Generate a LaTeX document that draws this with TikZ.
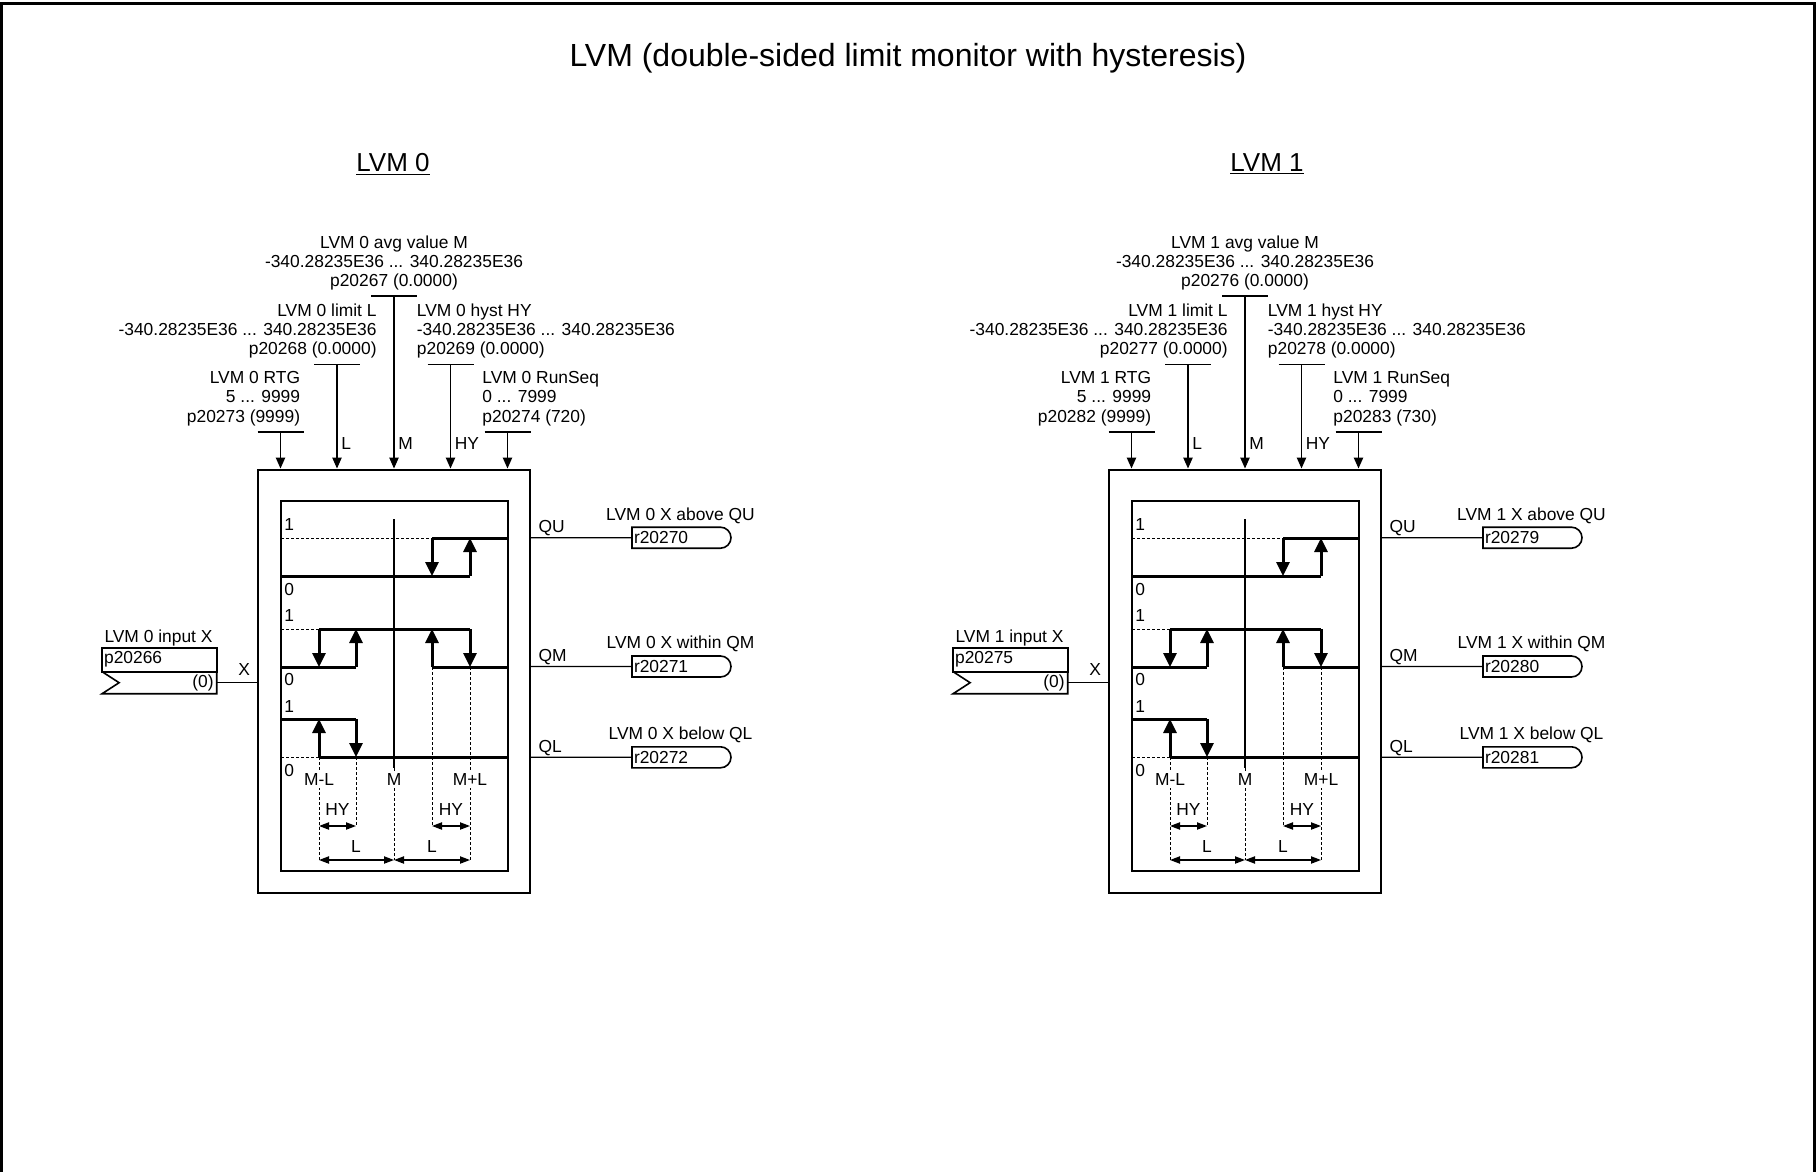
\documentclass[tikz,border=0pt]{standalone}
\usepackage{fontspec}
\setmainfont{Liberation Sans}
\usetikzlibrary{arrows.meta,positioning,calc,shapes.misc}
\newcommand{\pnr}[1]{\the\numexpr\pbase+#1\relax}

\begin{document}
\begin{tikzpicture}[
  x=0.5pt, y=-0.5pt,
  font=\fontsize{8.7}{9.6}\selectfont,
  txt/.style={inner sep=0pt, text depth=0pt},
  blk/.style={draw, line width=1pt, minimum width=136pt, minimum height=211.75pt},
  frm/.style={draw, line width=1pt},
  thn/.style={line width=0.65pt},
  bar/.style={line width=0.7pt},
  inarr/.style={thn, -{Triangle[length=5.5pt, width=4.7pt]}},
  hys/.style={line width=1.5pt},
  hysarr/.style={hys, -{Triangle[length=7pt, width=6.5pt]}},
  dim/.style={line width=0.7pt, {Triangle[length=5pt, width=3.6pt]}-{Triangle[length=5pt, width=3.6pt]}},
  dot/.style={line width=0.5pt, dash pattern=on 1.5pt off 1pt},
  pbox/.style={draw, line width=0.8pt, outer sep=0pt, minimum height=12pt, inner xsep=1pt,
               inner ysep=0pt, text width=55.3pt, align=left},
  rbox/.style={draw, line width=0.8pt, rounded rectangle, rounded rectangle left arc=none,
               minimum height=10.5pt, inner xsep=1pt, inner ysep=0pt, text width=46.5pt, align=left},
  lbl/.style={fill=white, inner sep=1pt}]
\useasboundingbox (0,0) rectangle (1816,1172);
% page frame, open at the bottom
\draw[line width=1.6pt] (1.6,1172) -- (1.6,3.5) -- (1814.5,3.5) -- (1814.5,1172);
\node[font=\fontsize{16}{19}\selectfont, anchor=base] (title) at (908,67)
  {LVM (double-sided limit monitor with hysteresis)};
\node[font=\fontsize{13}{15}\selectfont, anchor=base] (hd0) at (393,171) {\underline{LVM 0}};
\node[font=\fontsize{13}{15}\selectfont, anchor=base] (hd1) at (1267,171) {\underline{LVM 1}};

\foreach \n/\dx/\pbase/\rsq in {0/0/20266/720, 1/851/20275/730} {
\begin{scope}[shift={(\dx,0)}]
  % block and parameter inputs
  \node[blk] (box\n) at (394,681.25) {};
  \coordinate (bR\n) at (280.5,432);
  \coordinate (bL\n) at (337,364.5);
  \coordinate (bM\n) at (394,296);
  \coordinate (bH\n) at (450.5,364.5);
  \coordinate (bS\n) at (507.5,432);
  \node[txt, align=center, anchor=south] (tM\n) at ($(bM\n)+(0,-9)$)
    {LVM \n\ avg value M\\-340.28235E36 ... 340.28235E36\\p\pnr{1} (0.0000)};
  \node[txt, align=right, anchor=south east] (tL\n) at ($(bL\n)+(40,-9.5)$)
    {LVM \n\ limit L\\-340.28235E36 ... 340.28235E36\\p\pnr{2} (0.0000)};
  \node[txt, align=left, anchor=south west] (tH\n) at ($(bH\n)+(-34,-9.5)$)
    {LVM \n\ hyst HY\\-340.28235E36 ... 340.28235E36\\p\pnr{3} (0.0000)};
  \node[txt, align=right, anchor=south east] (tR\n) at ($(bR\n)+(20,-9.5)$)
    {LVM \n\ RTG\\5 ... 9999\\p\pnr{7} (9999)};
  \node[txt, align=left, anchor=south west] (tS\n) at ($(bS\n)+(-25.5,-9.5)$)
    {LVM \n\ RunSeq\\0 ... 7999\\p\pnr{8} (\rsq)};
  \foreach \side in {R,L,M,H,S} {
    \draw[bar] ($(b\side\n)+(-23,0)$) -- ($(b\side\n)+(23,0)$);
    \draw[inarr] (b\side\n) -- (b\side\n |- box\n.north);
  }
  \node[txt, anchor=base west] (lL\n) at ($(bL\n |- box\n.north)+(4,-19.5)$) {L};
  \node[txt, anchor=base west] (lM\n) at ($(bM\n |- box\n.north)+(4,-19.5)$) {M};
  \node[txt, anchor=base west] (lH\n) at ($(bH\n |- box\n.north)+(4,-19.5)$) {HY};

  % input X
  \node[pbox] (pin\n) at (159.4,659.7) {p\pnr{0}};
  \node[pbox, draw=none, minimum height=11pt, inner xsep=1.5pt, text width=54.3pt,
        align=right, below=0pt of pin\n] (din\n) {(0)};
  \draw[line width=0.8pt] (din\n.north west) -- ($(din\n.west)+(17,0)$) -- (din\n.south west)
    -- (din\n.south east) -- (din\n.north east);
  \node[txt, above right=2.6pt and 1pt of pin\n.north west] (nin\n) {LVM \n\ input X};
  \draw[thn] (din\n.east) -- node[txt, pos=0.68, above=3.2pt] (lx\n) {X} (din\n.east -| box\n.west);

  % outputs
  \node[rbox] (qu\n) at (680.5,537.7) {r\pnr{4}};
  \node[rbox] (qm\n) at (680.5,666.5) {r\pnr{5}};
  \node[rbox] (ql\n) at (680.5,757.3) {r\pnr{6}};
  \node[txt, above=3pt of qu\n] (nqu\n) {LVM \n\ X above QU};
  \node[txt, above=3pt of qm\n] (nqm\n) {LVM \n\ X within QM};
  \node[txt, above=3pt of ql\n] (nql\n) {LVM \n\ X below QL};
  \draw[thn] (box\n.east |- qu\n) -- node[txt, pos=0, above right=2.25pt and 3.5pt] {QU} (qu\n);
  \draw[thn] (box\n.east |- qm\n) -- node[txt, pos=0, above right=2.25pt and 3.5pt] {QM} (qm\n);
  \draw[thn] (box\n.east |- ql\n) -- node[txt, pos=0, above right=2.25pt and 3.5pt] {QL} (ql\n);

  % hysteresis chart
  \node[frm, minimum width=113.5pt, minimum height=185pt] (ch\n) at (394.5,686) {};
  \foreach \y/\v [count=\i] in {525/1, 589/0, 616/1, 679/0, 707/1, 770/0}
    \node[txt, anchor=west] (v\i\n) at (284,\y) {\v};
  \draw[thn] (394,519) -- (394,768);
  \draw[dot] (394,768) -- (394,860);
  % QU
  \draw[dot] (281,538) -- (432,538);
  \draw[hys] (281,576) -- (470,576);
  \draw[hys] (432,538) -- (508,538);
  \draw[hysarr] (432,538) -- (432,576);
  \draw[hysarr] (470,576) -- (470,538);
  % QM
  \draw[dot] (281,629) -- (319,629);
  \draw[hys] (319,629) -- (470,629);
  \draw[hys] (281,667) -- (356,667);
  \draw[hys] (432,667) -- (508,667);
  \draw[hysarr] (319,629) -- (319,667);
  \draw[hysarr] (356,667) -- (356,629);
  \draw[hysarr] (432,667) -- (432,629);
  \draw[hysarr] (470,629) -- (470,667);
  % QL
  \draw[dot] (281,757) -- (319,757);
  \draw[hys] (281,719) -- (356,719);
  \draw[hys] (319,757) -- (508,757);
  \draw[hysarr] (319,757) -- (319,719);
  \draw[hysarr] (356,719) -- (356,757);
  % thresholds
  \draw[dot] (319,757) -- (319,860);
  \draw[dot] (356,757) -- (356,826);
  \draw[dot] (432,667) -- (432,826);
  \draw[dot] (470,667) -- (470,860);
  \node[lbl] (mL\n) at (319,780) {M-L};
  \node[lbl] (mm\n) at (394,780) {M};
  \node[lbl] (mP\n) at (470,780) {M+L};
  \node (hy1\n) at (337.5,810) {HY};
  \node (hy2\n) at (451,810) {HY};
  \node (l1\n) at (356,847) {L};
  \node (l2\n) at (432,847) {L};
  \draw[dim] (319,826) -- (356,826);
  \draw[dim] (432,826) -- (470,826);
  \draw[dim] (319,860) -- (394,860);
  \draw[dim] (394,860) -- (470,860);
\end{scope}
}
\end{tikzpicture}
\end{document}
